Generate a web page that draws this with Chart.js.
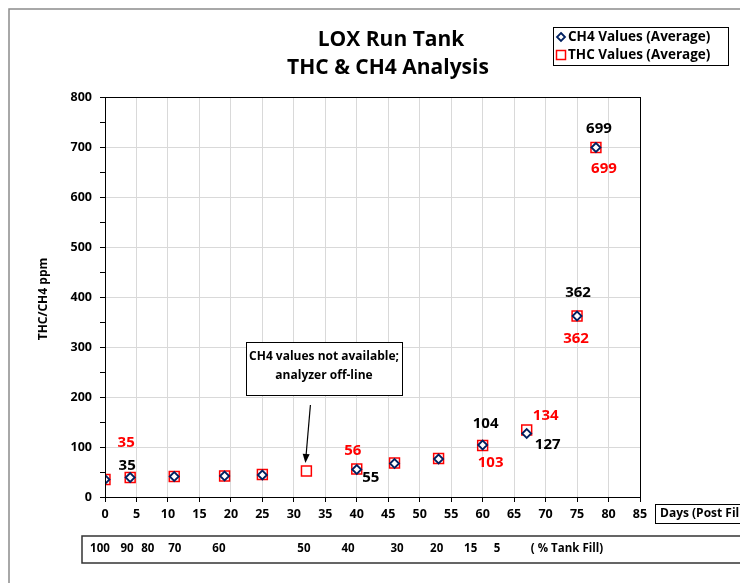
<!DOCTYPE html>
<html>
<head>
<meta charset="utf-8">
<script src="https://cdn.jsdelivr.net/npm/chart.js@4.4.0/dist/chart.umd.min.js"></script>
<style>
  html, body { margin: 0; padding: 0; background: #fff; }
  #chart-container { width: 740px; height: 583px; }
</style>
</head>
<body>
<div id="chart-container"><canvas id="tankChart" width="740" height="583"></canvas></div>
<script>
// days after fill, and averaged readings (ppm)
const days = [0, 4, 11, 19, 25, 32, 40, 46, 53, 60, 67, 75, 78];
const ch4Values = [35, 39, 41, 42, 44, null, 55, 67, 76, 104, 127, 362, 699];
const thcValues = [35, 39, 41, 42, 45, 52, 56, 68, 77, 103, 134, 362, 699];
const ch4Labels = ['', '35', '', '', '', '', '55', '', '', '104', '127', '362', '699'];
const thcLabels = ['', '35', '', '', '', '', '56', '', '', '103', '134', '362', '699'];
const tankFillLabels = ['100', '90', '80', '70', '60', '50', '40', '30', '20', '15', '5'];
const tankFillDays = [-0.8, 3.5, 6.8, 11.1, 18.1, 31.6, 38.6, 46.4, 52.7, 58.1, 62.3];

const FONT = '"Open Sans", Lato, sans-serif';
const NAVY = '#002060';
const RED = '#ff0000';

// where the value labels sit relative to their marker
const labelOffsets = {
  ch4: { 1: [-3, -12], 6: [14, 8], 9: [3, -21], 10: [21, 11], 11: [1, -23], 12: [3, -19] },
  thc: { 1: [-4, -35], 6: [-4, -18], 9: [8, 17], 10: [19, -14], 11: [-1, 23], 12: [8, 21] }
};

function drawArrow(ctx, x1, y1, x2, y2) {
  const ang = Math.atan2(y2 - y1, x2 - x1);
  ctx.beginPath();
  ctx.moveTo(x1, y1);
  ctx.lineTo(x2 - 6 * Math.cos(ang), y2 - 6 * Math.sin(ang));
  ctx.stroke();
  ctx.beginPath();
  ctx.moveTo(x2, y2);
  ctx.lineTo(x2 - 9 * Math.cos(ang) + 3.5 * Math.sin(ang), y2 - 9 * Math.sin(ang) - 3.5 * Math.cos(ang));
  ctx.lineTo(x2 - 9 * Math.cos(ang) - 3.5 * Math.sin(ang), y2 - 9 * Math.sin(ang) + 3.5 * Math.cos(ang));
  ctx.closePath();
  ctx.fill();
}

const overlayPlugin = {
  id: 'overlay',
  beforeDraw(chart) {
    const ctx = chart.ctx;
    ctx.save();
    ctx.fillStyle = '#fff';
    ctx.fillRect(0, 0, chart.width, chart.height);
    ctx.restore();
  },
  afterDatasetsDraw(chart) {
    const ctx = chart.ctx;
    const area = chart.chartArea;
    ctx.save();

    // plot area frame
    ctx.strokeStyle = '#000';
    ctx.lineWidth = 1;
    ctx.strokeRect(area.left + 0.5, area.top + 0.5, area.right - area.left, area.bottom - area.top);

    // value labels
    ctx.font = 'bold 15px ' + FONT;
    ctx.textAlign = 'center';
    ctx.textBaseline = 'middle';
    [[0, ch4Labels, '#000', labelOffsets.ch4], [1, thcLabels, RED, labelOffsets.thc]].forEach(([di, labels, color, offs]) => {
      const meta = chart.getDatasetMeta(di);
      ctx.fillStyle = color;
      labels.forEach((t, i) => {
        if (!t) return;
        const pt = meta.data[i];
        const o = offs[i] || [0, -16];
        ctx.fillText(t, pt.x + o[0], pt.y + o[1]);
      });
    });

    // callout for the missing CH4 reading
    const gap = chart.getDatasetMeta(1).data[5];
    ctx.fillStyle = '#fff';
    ctx.fillRect(246, 342, 156, 53);
    ctx.strokeStyle = '#000';
    ctx.strokeRect(246.5, 342.5, 156, 53);
    ctx.fillStyle = '#000';
    ctx.font = 'bold 12px ' + FONT;
    ctx.fillText('CH4 values not available;', 324, 357);
    ctx.fillText('analyzer off-line', 324, 376);
    ctx.lineWidth = 1.2;
    drawArrow(ctx, gap.x + 4, gap.y - 66, gap.x - 1, gap.y - 8);

    ctx.restore();
  },
  afterDraw(chart) {
    const ctx = chart.ctx;
    const xs = chart.scales.x;
    ctx.save();

    // outer chart border
    ctx.strokeStyle = '#8c8c8c';
    ctx.lineWidth = 1.5;
    ctx.strokeRect(9, 9, 800, 800);

    // title
    ctx.fillStyle = '#000';
    ctx.textAlign = 'center';
    ctx.textBaseline = 'middle';
    ctx.font = 'bold 21px ' + FONT;
    ctx.fillText('LOX Run Tank', 391, 40);
    ctx.fillText('THC & CH4 Analysis', 388, 68);

    // y axis title
    ctx.save();
    ctx.translate(44, 299);
    ctx.rotate(-Math.PI / 2);
    ctx.font = 'bold 12px ' + FONT;
    ctx.fillText('THC/CH4 ppm', 0, 0);
    ctx.restore();

    // legend
    ctx.lineWidth = 1;
    ctx.strokeStyle = '#000';
    ctx.strokeRect(553.5, 27.5, 175, 38);
    ctx.strokeStyle = NAVY;
    ctx.lineWidth = 1.8;
    ctx.beginPath();
    ctx.moveTo(561, 33); ctx.lineTo(565, 37); ctx.lineTo(561, 41); ctx.lineTo(557, 37); ctx.closePath();
    ctx.stroke();
    ctx.strokeStyle = RED;
    ctx.lineWidth = 1.5;
    ctx.strokeRect(556.5, 50.5, 9, 9);
    ctx.fillStyle = '#000';
    ctx.textAlign = 'left';
    ctx.font = 'bold 13.5px ' + FONT;
    ctx.fillText('CH4 Values (Average)', 568, 37);
    ctx.fillText('THC Values (Average)', 568, 55);

    // x axis caption box
    ctx.strokeStyle = '#000';
    ctx.lineWidth = 1;
    ctx.strokeRect(655.5, 504.5, 100, 19);
    ctx.font = 'bold 12px ' + FONT;
    ctx.fillText('Days (Post Fill)', 660, 514);

    // tank fill scale
    ctx.strokeStyle = '#333';
    ctx.lineWidth = 1.5;
    ctx.strokeRect(82, 536, 700, 27);
    ctx.textAlign = 'center';
    ctx.font = 'bold 11.5px ' + FONT;
    tankFillLabels.forEach((t, i) => {
      ctx.fillText(t, xs.getPixelForValue(tankFillDays[i]), 549);
    });
    ctx.fillText('( % Tank Fill)', 567, 549);

    ctx.restore();
  }
};

new Chart(document.getElementById('tankChart'), {
  type: 'scatter',
  data: {
    datasets: [
      {
        label: 'CH4 Values (Average)',
        data: days.map((d, i) => ({ x: d, y: ch4Values[i] })),
        pointStyle: 'rectRot',
        pointRadius: 4.5,
        pointBorderWidth: 1.8,
        pointBorderColor: NAVY,
        pointBackgroundColor: '#fff',
        showLine: false
      },
      {
        label: 'THC Values (Average)',
        data: days.map((d, i) => ({ x: d, y: thcValues[i] })),
        pointStyle: 'rect',
        pointRadius: 7,
        pointBorderWidth: 1.5,
        pointBorderColor: RED,
        pointBackgroundColor: '#fff',
        showLine: false
      }
    ]
  },
  options: {
    responsive: false,
    animation: false,
    events: [],
    layout: { padding: { left: 0, top: 97, right: 100, bottom: 56 } },
    scales: {
      x: {
        type: 'linear',
        min: 0,
        max: 85,
        afterFit: (s) => { s.height = 30; },
        ticks: {
          stepSize: 5,
          color: '#000',
          padding: 5,
          font: { size: 12.5, weight: 'bold', family: FONT }
        },
        grid: { color: '#d9d9d9', tickColor: '#000', tickLength: 5 },
        border: { color: '#000', width: 1 }
      },
      y: {
        min: 0,
        max: 800,
        afterFit: (s) => { s.width = 105; },
        ticks: {
          stepSize: 50,
          color: '#000',
          padding: 8,
          font: { size: 12.5, weight: 'bold', family: FONT },
          callback: (v) => (v % 100 === 0 ? v : '')
        },
        grid: {
          color: (c) => (c.tick && c.tick.value % 100 === 0 ? '#d9d9d9' : 'rgba(0,0,0,0)'),
          tickColor: '#000',
          tickLength: 5
        },
        border: { color: '#000', width: 1 }
      }
    },
    plugins: {
      legend: { display: false },
      title: { display: false },
      tooltip: { enabled: false }
    }
  },
  plugins: [overlayPlugin]
});
</script>
</body>
</html>
